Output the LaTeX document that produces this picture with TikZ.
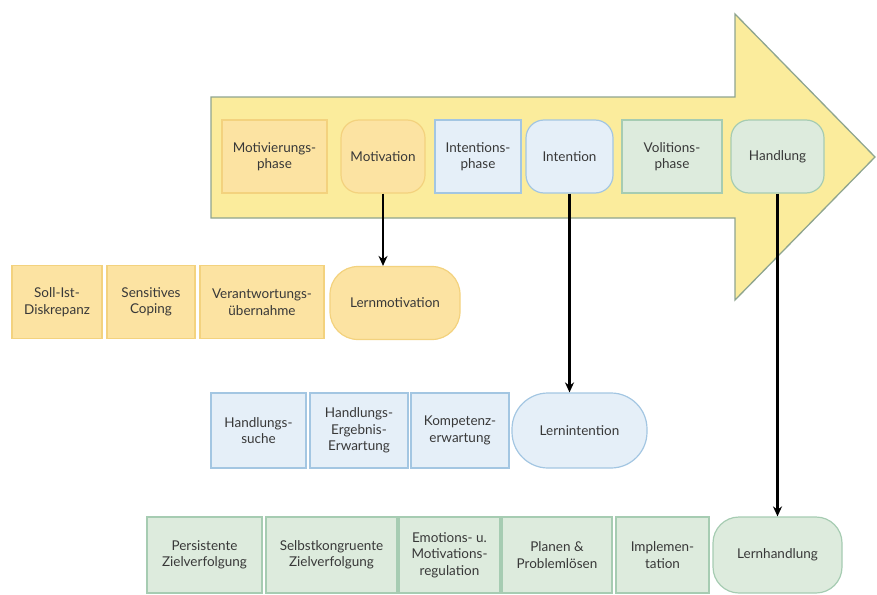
\documentclass[tikz,border=0pt]{standalone}
\usepackage{fontspec}
\setmainfont{Lato}
\usepackage{xcolor}
\usepackage{tikz}
\usetikzlibrary{arrows.meta,calc}
\definecolor{pyellow}{HTML}{FBEC9C}
\definecolor{pframe}{HTML}{8FA58F}
\definecolor{porange}{HTML}{FCE3A2}
\definecolor{porangeb}{HTML}{F3D27E}
\definecolor{pblue}{HTML}{E5EFF8}
\definecolor{pblueb}{HTML}{A3C6E2}
\definecolor{pgreen}{HTML}{DDEBDD}
\definecolor{pgreenb}{HTML}{A6CCB2}
\tikzset{
  >={Stealth[length=10pt,width=9pt]},
  pbox/.style={draw, line width=1.2pt, align=center, inner sep=2pt,
               text=black!78, font=\fontsize{13.5}{16.5}\selectfont},
  pyel/.style={pbox, fill=porange, draw=porangeb},
  pblu/.style={pbox, fill=pblue, draw=pblueb},
  pgrn/.style={pbox, fill=pgreen, draw=pgreenb},
  parr/.style={->, black, line width=2.6pt},
}

\begin{document}
\begin{tikzpicture}[x=1pt,y=-1pt]
  \useasboundingbox (0,0) rectangle (877,594);

  % grosser Prozesspfeil
  \draw[fill=pyellow, draw=pframe, line width=1.3pt, line join=miter]
    (211,97) -- (735,97) -- (735,14) -- (875,157) -- (735,300)
    -- (735,218) -- (211,218) -- cycle;

  % Phasen im Pfeil
  \node[pyel, minimum width=105, minimum height=73] (mph) at (274.5,156.5) {Motivierungs-\\phase};
  \node[pyel, rounded corners=18pt, minimum width=84, minimum height=73] (mot) at (383,156.5) {Motivation};
  \node[pblu, minimum width=86, minimum height=73] (iph) at (478,156.5) {Intentions-\\phase};
  \node[pblu, rounded corners=18pt, minimum width=87, minimum height=73] (int) at (569.5,156.5) {Intention};
  \node[pgrn, minimum width=100, minimum height=73] (vph) at (672,156.5) {Volitions-\\phase};
  \node[pgrn, rounded corners=18pt, minimum width=93, minimum height=73] (han) at (777.5,156.5) {Handlung};

  % Lernmotivation
  \node[pyel, minimum width=90, minimum height=73] (sol) at (57,302) {Soll-Ist-\\Diskrepanz};
  \node[pyel, minimum width=88, minimum height=73] (sen) at (151,302) {Sensitives\\Coping};
  \node[pyel, minimum width=124, minimum height=73] (ver) at (262,302) {Verantwortungs-\\übernahme};
  \node[pyel, rounded corners=28pt, minimum width=130, minimum height=73] (lmot) at (395,303) {Lernmotivation};

  % Lernintention
  \node[pblu, minimum width=95, minimum height=75] (hsu) at (258.5,430.5) {Handlungs-\\suche};
  \node[pblu, minimum width=98, minimum height=75] (her) at (359,430.5) {Handlungs-\\Ergebnis-\\Erwartung};
  \node[pblu, minimum width=98, minimum height=75] (kom) at (460,430.5) {Kompetenz-\\erwartung};
  \node[pblu, rounded corners=36pt, minimum width=135, minimum height=75] (lint) at (579.5,430.5) {Lernintention};

  % Lernhandlung
  \node[pgrn, minimum width=115, minimum height=76] (per) at (204.5,555) {Persistente\\Zielverfolgung};
  \node[pgrn, minimum width=131, minimum height=76] (sel) at (331.5,555) {Selbstkongruente\\Zielverfolgung};
  \node[pgrn, minimum width=101, minimum height=76] (emo) at (449.5,555) {Emotions- u.\\Motivations-\\regulation};
  \node[pgrn, minimum width=110, minimum height=76] (pla) at (557,555) {Planen \&\\Problemlösen};
  \node[pgrn, minimum width=93, minimum height=76] (imp) at (662.5,555) {Implemen-\\tation};
  \node[pgrn, rounded corners=26pt, minimum width=129, minimum height=76] (lhan) at (777.5,555) {Lernhandlung};

  \draw[parr] (mot.south) -- (mot.south |- lmot.north);
  \draw[parr] (int.south) -- (int.south |- lint.north);
  \draw[parr] (han.south) -- (lhan.north);

\end{tikzpicture}
\end{document}
